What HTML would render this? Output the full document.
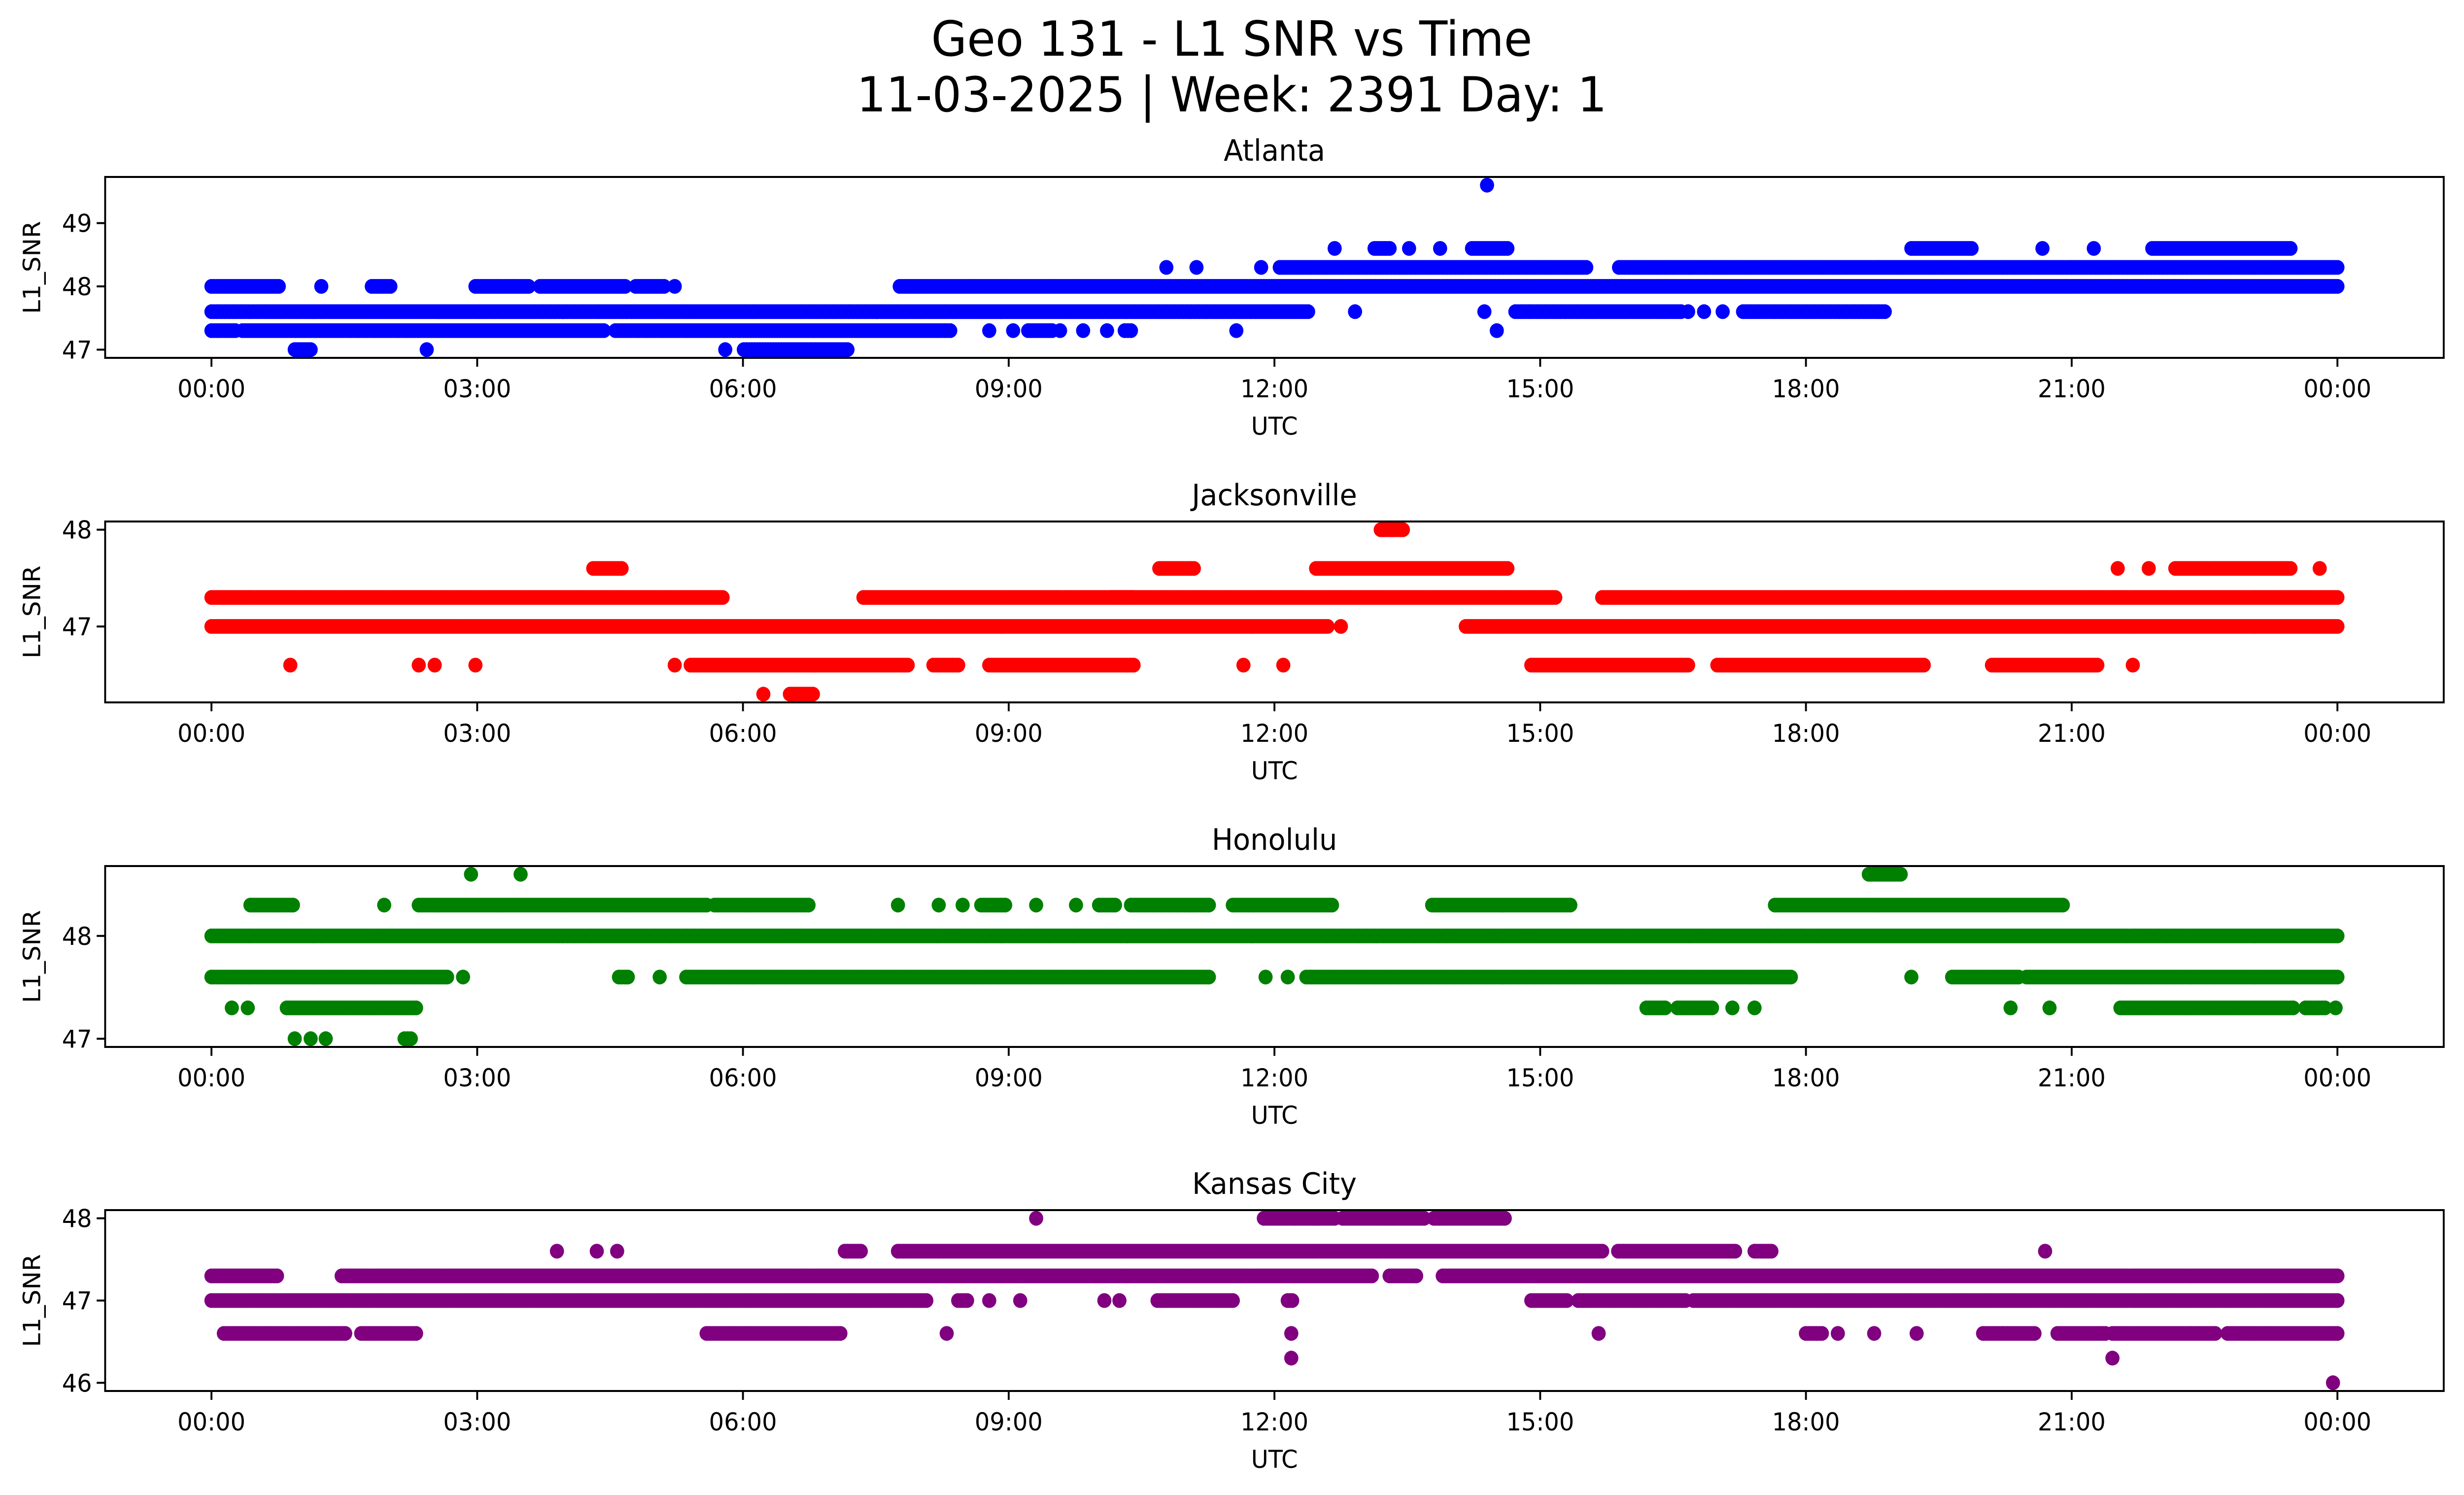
<!DOCTYPE html>
<html><head><meta charset="utf-8">
<style>
html,body{margin:0;padding:0;background:#fff;width:100%;height:100%;overflow:hidden;}
svg{display:block;width:100vw;height:100vh;font-family:"DejaVu Sans","Liberation Sans",sans-serif;}
</style></head>
<body>
<svg id="fig" viewBox="0 0 5225 3033" preserveAspectRatio="none" xmlns="http://www.w3.org/2000/svg">
<rect width="5225" height="3033" fill="#fff"/>
<text x="2612" y="113" font-size="98" text-anchor="middle">Geo 131 - L1 SNR vs Time</text>
<text x="2612" y="226" font-size="98" text-anchor="middle">11-03-2025 | Week: 2391 Day: 1</text>
</svg>
<script>
// Data: runs of [startHour, endHour, SNR]; a single point has start == end
const stations = ["Atlanta", "Jacksonville", "Honolulu", "Kansas City"];
const colors = ["#0000ff", "#ff0000", "#008000", "#800080"];
const atlantaRuns = [
 [0,0.76,48],[1.24,1.24,48],[1.81,2.02,48],[2.98,3.58,48],[3.71,4.67,48],[4.79,5.11,48],[5.23,5.23,48],[7.77,24,48],
 [0,12.38,47.6],[12.91,12.91,47.6],[14.37,14.37,47.6],[14.72,16.59,47.6],[16.67,16.67,47.6],[16.85,16.85,47.6],[17.06,17.06,47.6],[17.29,18.89,47.6],
 [0,0.27,47.3],[0.35,4.43,47.3],[4.56,8.34,47.3],[8.78,8.78,47.3],[9.05,9.05,47.3],[9.22,9.49,47.3],[9.58,9.58,47.3],[9.84,9.84,47.3],[10.11,10.11,47.3],[10.31,10.38,47.3],[11.57,11.57,47.3],[14.51,14.51,47.3],
 [0.94,1.12,47],[2.43,2.43,47],[5.8,5.8,47],[6.01,7.18,47],
 [10.78,10.78,48.3],[11.12,11.12,48.3],[11.85,11.85,48.3],[12.06,15.52,48.3],[15.89,24,48.3],
 [12.68,12.68,48.6],[13.13,13.3,48.6],[13.52,13.52,48.6],[13.87,13.87,48.6],[14.23,14.63,48.6],[19.19,19.87,48.6],[20.67,20.67,48.6],[21.25,21.25,48.6],[21.91,23.47,48.6],
 [14.4,14.4,49.6]
];
const jacksonvilleRuns = [
 [0,5.77,47.3],[7.36,10.41,47.3],[10.15,15.17,47.3],[15.7,24,47.3],
 [0,12.6,47],[12.75,12.75,47],[14.16,24,47],
 [0.89,0.89,46.6],[2.34,2.34,46.6],[2.52,2.52,46.6],[2.98,2.98,46.6],[5.23,5.23,46.6],[5.41,7.86,46.6],[8.15,8.43,46.6],[8.78,10.41,46.6],[11.65,11.65,46.6],[12.1,12.1,46.6],[14.9,16.67,46.6],[17,19.33,46.6],[20.1,21.29,46.6],[21.69,21.69,46.6],
 [6.23,6.23,46.3],[6.53,6.79,46.3],
 [4.31,4.63,47.6],[10.7,11.09,47.6],[12.47,14.63,47.6],[21.52,21.52,47.6],[21.87,21.87,47.6],[22.17,23.47,47.6],[23.8,23.8,47.6],
 [13.2,13.45,48]
];
const honoluluRuns = [
 [0,24,48],
 [0,2.66,47.6],[2.84,2.84,47.6],[4.6,4.7,47.6],[5.06,5.06,47.6],[5.36,11.26,47.6],[11.9,11.9,47.6],[12.15,12.15,47.6],[12.36,17.83,47.6],[19.19,19.19,47.6],[19.65,20.4,47.6],[20.49,24,47.6],
 [0.44,0.92,48.3],[1.95,1.95,48.3],[2.34,5.59,48.3],[5.68,6.74,48.3],[7.75,7.75,48.3],[8.21,8.21,48.3],[8.48,8.48,48.3],[8.69,8.96,48.3],[9.31,9.31,48.3],[9.76,9.76,48.3],[10.02,10.2,48.3],[10.38,11.26,48.3],[11.53,12.65,48.3],[13.78,15.34,48.3],[17.65,20.9,48.3],
 [2.93,2.93,48.6],[3.49,3.49,48.6],[18.71,19.07,48.6],
 [0.23,0.23,47.3],[0.41,0.41,47.3],[0.85,2.31,47.3],[16.2,16.41,47.3],[16.55,16.94,47.3],[17.17,17.17,47.3],[17.42,17.42,47.3],[20.31,20.31,47.3],[20.75,20.75,47.3],[21.55,23.5,47.3],[23.64,23.86,47.3],[23.98,23.98,47.3],
 [0.94,0.94,47],[1.12,1.12,47],[1.29,1.29,47],[2.18,2.25,47]
];
const kansasRuns = [
 [0,0.74,47.3],[1.47,13.1,47.3],[13.3,13.6,47.3],[13.9,24,47.3],
 [0,8.07,47],[8.43,8.53,47],[8.78,8.78,47],[9.13,9.13,47],[10.08,10.08,47],[10.25,10.25,47],[10.68,11.53,47],[12.15,12.2,47],[14.9,15.3,47],[15.43,16.64,47],[16.73,24,47],
 [0.14,1.51,46.6],[1.69,2.31,46.6],[5.59,7.1,46.6],[8.3,8.3,46.6],[12.19,12.19,46.6],[15.66,15.66,46.6],[18,18.18,46.6],[18.36,18.36,46.6],[18.77,18.77,46.6],[19.25,19.25,46.6],[20,20.58,46.6],[20.84,21.38,46.6],[21.46,22.62,46.6],[22.76,24,46.6],
 [3.9,3.9,47.6],[4.35,4.35,47.6],[4.58,4.58,47.6],[7.15,7.33,47.6],[7.75,15.7,47.6],[15.88,17.2,47.6],[17.42,17.61,47.6],[20.7,20.7,47.6],
 [9.31,9.31,48],[11.88,12.68,48],[12.77,13.69,48],[13.8,14.6,48],
 [12.19,12.19,46.3],[21.46,21.46,46.3],[23.95,23.95,46]
];
const allRuns = [atlantaRuns, jacksonvilleRuns, honoluluRuns, kansasRuns];
const xTickHours = [0,3,6,9,12,15,18,21,24];
const xTickLabels = ["00:00","03:00","06:00","09:00","12:00","15:00","18:00","21:00","00:00"];
const yTicksList = [[47,48,49],[47,48],[47,48],[46,47,48]];

const NS = "http://www.w3.org/2000/svg";
const svg = document.getElementById("fig");
const L = 223, R = 5182, H = 367;
const tops = [359, 1058, 1757, 2455];
const XMIN = -1.2, XMAX = 25.2;
const xs = h => L + (h - XMIN) / (XMAX - XMIN) * (R - L);
function mk(tag, attrs, parent){ const e=document.createElementNS(NS,tag); for(const k in attrs) e.setAttribute(k,attrs[k]); (parent||svg).appendChild(e); return e; }

stations.forEach((name, i) => {
  const top = tops[i], bot = top + H;
  const runs = allRuns[i];
  let vmin = Infinity, vmax = -Infinity;
  runs.forEach(r => { vmin = Math.min(vmin, r[2]); vmax = Math.max(vmax, r[2]); });
  const m = (vmax - vmin) * 0.05;
  const y0 = vmin - m, y1 = vmax + m;
  const ys = v => bot - (v - y0) / (y1 - y0) * H;

  const g = mk("g", {});
  
  

  const title = mk("text", {x:(L+R)/2, y:top-33, "font-size":60, "text-anchor":"middle"}, g);
  title.textContent = name;
  
  

  const clip = mk("clipPath", {id:"c"+i}, g);
  mk("rect", {x:L, y:top, width:R-L, height:H}, clip);
  const pts = mk("g", {fill:colors[i], "clip-path":"url(#c"+i+")"}, g);
  
  
  runs.forEach(r => {
    const y = ys(r[2]);
    const n = Math.max(1, Math.round((r[1]-r[0]) / 0.03));
    for (let k = 0; k <= n; k++) {
      const h = r[0] + (r[1]-r[0]) * k / n;
      mk("circle", {cx:xs(h).toFixed(1), cy:y.toFixed(1), r:15}, pts);
      if (r[1]===r[0]) break;
    }
  });

  const frame = mk("rect", {x:L, y:top, width:R-L, height:H, fill:"none", stroke:"#000", "stroke-width":4}, g);
  
  

  xTickHours.forEach((h, k) => {
    const x = xs(h);
    const t = mk("line", {x1:x, x2:x, y1:bot, y2:bot+18, stroke:"#000", "stroke-width":4}, g);
    
    
    const tl = mk("text", {x:x, y:bot+80, "font-size":50, "text-anchor":"middle"}, g);
    tl.textContent = xTickLabels[k];
    
    
  });
  yTicksList[i].forEach(v => {
    const y = ys(v);
    const t = mk("line", {x1:L-18, x2:L, y1:y, y2:y, stroke:"#000", "stroke-width":4}, g);
    
    
    const tl = mk("text", {x:L-28, y:y+18, "font-size":50, "text-anchor":"end"}, g);
    tl.textContent = String(v);
    
    
  });
  const xl = mk("text", {x:(L+R)/2, y:bot+156, "font-size":50, "text-anchor":"middle"}, g);
  xl.textContent = "UTC";
  
  
  const cy = top + H/2;
  const yl = mk("text", {x:85, y:cy, "font-size":50, "text-anchor":"middle", transform:"rotate(-90 85 "+cy+")"}, g);
  yl.textContent = "L1_SNR";
  
  
});
</script>
</body></html>
